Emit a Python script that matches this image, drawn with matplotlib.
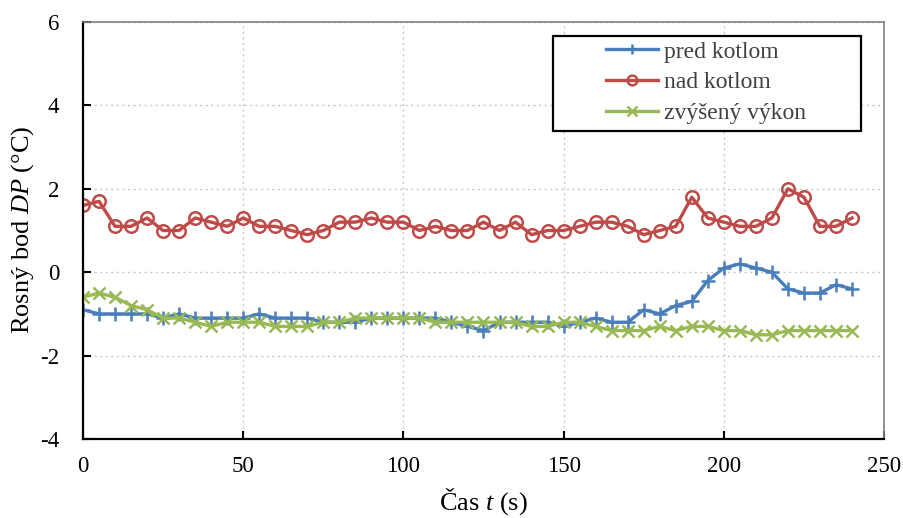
import matplotlib
matplotlib.use("Agg")
import matplotlib.pyplot as plt
from matplotlib.patches import Rectangle

plt.rcParams['font.family'] = ['Liberation Serif', 'DejaVu Serif']
plt.rcParams['mathtext.fontset'] = 'custom'
plt.rcParams['mathtext.it'] = 'Liberation Serif:italic'
plt.rcParams['mathtext.rm'] = 'Liberation Serif'
plt.rcParams['axes.unicode_minus'] = False

time_s = list(range(0, 245, 5))
pred_kotlom = [-0.9, -1.0, -1.0, -1.0, -1.0, -1.1, -1.0, -1.1, -1.1, -1.1,
               -1.1, -1.0, -1.1, -1.1, -1.1, -1.2, -1.2, -1.2, -1.1, -1.1,
               -1.1, -1.1, -1.1, -1.2, -1.3, -1.4, -1.2, -1.2, -1.2, -1.2,
               -1.3, -1.2, -1.1, -1.2, -1.2, -0.9, -1.0, -0.8, -0.7, -0.2,
               0.1, 0.2, 0.1, 0.0, -0.4, -0.5, -0.5, -0.3, -0.4]
nad_kotlom = [1.6, 1.7, 1.1, 1.1, 1.3, 1.0, 1.0, 1.3, 1.2, 1.1,
              1.3, 1.1, 1.1, 1.0, 0.9, 1.0, 1.2, 1.2, 1.3, 1.2,
              1.2, 1.0, 1.1, 1.0, 1.0, 1.2, 1.0, 1.2, 0.9, 1.0,
              1.0, 1.1, 1.2, 1.2, 1.1, 0.9, 1.0, 1.1, 1.8, 1.3,
              1.2, 1.1, 1.1, 1.3, 2.0, 1.8, 1.1, 1.1, 1.3]
zvyseny_vykon = [-0.6, -0.5, -0.6, -0.8, -0.9, -1.1, -1.1, -1.2, -1.3, -1.2,
                 -1.2, -1.2, -1.3, -1.3, -1.3, -1.2, -1.2, -1.1, -1.1, -1.1,
                 -1.1, -1.1, -1.2, -1.2, -1.2, -1.2, -1.2, -1.2, -1.3, -1.3,
                 -1.2, -1.2, -1.3, -1.4, -1.4, -1.4, -1.3, -1.4, -1.3, -1.3,
                 -1.4, -1.4, -1.5, -1.5, -1.4, -1.4, -1.4, -1.4, -1.4]
labels = ['pred kotlom', 'nad kotlom', 'zvýšený výkon']
x_ticks = [0, 50, 100, 150, 200, 250]
y_ticks = [-4, -2, 0, 2, 4, 6]

W, H = 904, 518
L, R, T, B = 83, 884, 22, 439
fig = plt.figure(figsize=(W/100, H/100), dpi=100)
ax = fig.add_axes([L/W, 1-B/H, (R-L)/W, (B-T)/H])

ax.plot(time_s, pred_kotlom, color='#4A7EBB', lw=2.4, marker='+', ms=10,
        mew=1.8, label=labels[0])
ax.plot(time_s, nad_kotlom, color='#BE4B48', lw=2.4, marker='o', ms=9,
        mfc='none', mew=1.8, label=labels[1])
ax.plot(time_s, zvyseny_vykon, color='#98B954', lw=2.4, marker='x', ms=8,
        mew=1.8, label=labels[2])

ax.set_xlim(0, 250)
ax.set_ylim(-4, 6)
ax.set_xticks(x_ticks)
ax.set_yticks(y_ticks)
ax.grid(True, color='#C8C8C8', linestyle=(0, (1.5, 2.5)), lw=1.0)
ax.set_axisbelow(True)

for s in ['left', 'bottom']:
    ax.spines[s].set_color('black')
    ax.spines[s].set_linewidth(1.6)
for s in ['top', 'right']:
    ax.spines[s].set_color('#808080')
    ax.spines[s].set_linewidth(1.2)

ax.tick_params(direction='in', length=6, width=1.5, labelsize=16.5, colors='black')
ax.tick_params(axis='x', pad=12)
ax.tick_params(axis='y', pad=17)

ax.set_xlabel('Čas $\\mathit{t}$ (s)', fontsize=19)
ax.set_ylabel('Rosný bod $\\mathit{DP}$ (°C)', fontsize=19)
ax.xaxis.set_label_coords((483-L)/(R-L), -(486-B)/(B-T))
ax.yaxis.set_label_coords(-(L-36)/(R-L), (B-230)/(B-T))

# legend frame
fx0, fx1, fy0, fy1 = 553, 861, 36, 131
ax.add_patch(Rectangle(((fx0-L)/(R-L), 1-(fy1-T)/(B-T)), (fx1-fx0)/(R-L), (fy1-fy0)/(B-T),
                       transform=ax.transAxes, fill=True, facecolor='white',
                       edgecolor='black', lw=1.6, zorder=4, clip_on=False))

leg = ax.legend(loc='upper left', bbox_to_anchor=((606-L)/(R-L), 1-(41-T)/(B-T)),
                fontsize=17, frameon=False, borderpad=0,
                handlelength=2.2, labelspacing=0.4, handletextpad=0.25,
                borderaxespad=0)
leg.set_zorder(5)
for t in leg.get_texts():
    t.set_color('#404040')
for h in leg.legend_handles:
    h.set_linewidth(2.4)
    h.set_markersize(7)

fig.savefig('out.png', dpi=100)
